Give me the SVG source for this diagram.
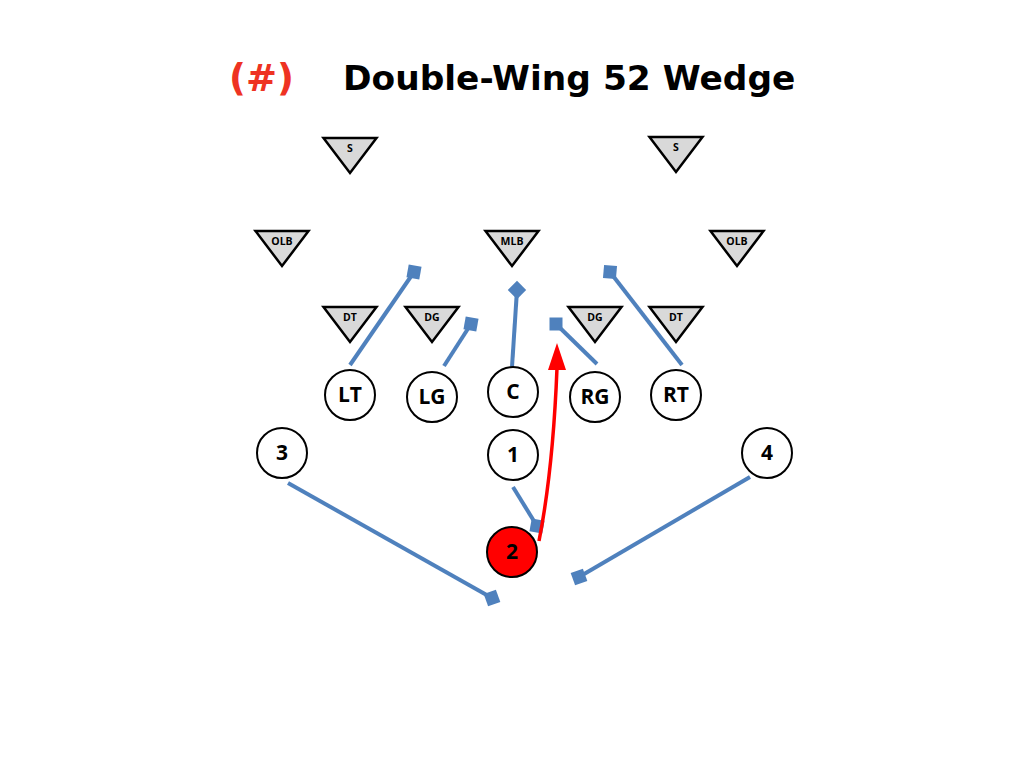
<svg xmlns="http://www.w3.org/2000/svg" width="1024" height="768" viewBox="0 0 1024 768">
<style>
.tri{fill:#D9D9D9;stroke:#000;stroke-width:2.5;stroke-linejoin:miter}
.tl{font-family:"Open Sans","Liberation Sans",sans-serif;font-weight:bold;font-size:10.5px;text-anchor:middle;fill:#000}
.pl{fill:#fff;stroke:#000;stroke-width:2}
.cl{font-family:"Open Sans","Liberation Sans",sans-serif;font-weight:bold;font-size:21px;text-anchor:middle;fill:#000}
.bl{fill:none;stroke:#4F81BD;stroke-width:4}
.sq{fill:#4F81BD}
</style>
<defs>
<path id="tri" d="M-26.5,0 L26.5,0 L0,35 Z"/>
<rect id="sq" x="-6.5" y="-6.5" width="13" height="13"/>
</defs>
<g id="title">
<text x="229" y="91" font-family="DejaVu Sans,Verdana,sans-serif" font-weight="bold" font-size="37" fill="#EE3322">(#)</text>
<text x="343" y="90" font-family="DejaVu Sans,Verdana,sans-serif" font-weight="bold" font-size="34.4" fill="#000">Double-Wing 52 Wedge</text>
</g>
<g id="S-left"><use href="#tri" class="tri" x="350" y="138"/><text class="tl" x="350" y="152">S</text></g>
<g id="S-right"><use href="#tri" class="tri" x="676" y="137"/><text class="tl" x="676" y="151">S</text></g>
<g id="OLB-left"><use href="#tri" class="tri" x="282" y="231"/><text class="tl" x="282" y="245">OLB</text></g>
<g id="MLB"><use href="#tri" class="tri" x="512" y="231"/><text class="tl" x="512" y="245">MLB</text></g>
<g id="OLB-right"><use href="#tri" class="tri" x="737" y="231"/><text class="tl" x="737" y="245">OLB</text></g>
<g id="DT-left"><use href="#tri" class="tri" x="350" y="307"/><text class="tl" x="350" y="321">DT</text></g>
<g id="DG-left"><use href="#tri" class="tri" x="432" y="307"/><text class="tl" x="432" y="321">DG</text></g>
<g id="DG-right"><use href="#tri" class="tri" x="595" y="307"/><text class="tl" x="595" y="321">DG</text></g>
<g id="DT-right"><use href="#tri" class="tri" x="676" y="307"/><text class="tl" x="676" y="321">DT</text></g>
<g id="connectors">
<line class="bl" x1="350" y1="365" x2="414" y2="272"/>
<use href="#sq" class="sq" transform="translate(414,272) rotate(10)"/>
<line class="bl" x1="444" y1="366" x2="471" y2="324"/>
<use href="#sq" class="sq" transform="translate(471,324) rotate(10)"/>
<line class="bl" x1="512" y1="367" x2="517" y2="290"/>
<use href="#sq" class="sq" transform="translate(517,290) rotate(45)"/>
<line class="bl" x1="597" y1="364" x2="556" y2="324"/>
<use href="#sq" class="sq" transform="translate(556,324)"/>
<line class="bl" x1="682" y1="365" x2="610" y2="272"/>
<use href="#sq" class="sq" transform="translate(610,272) rotate(5)"/>
<line class="bl" x1="513" y1="487" x2="537" y2="526"/>
<use href="#sq" class="sq" transform="translate(537,526) rotate(10)"/>
<line class="bl" x1="288" y1="483" x2="492" y2="598"/>
<use href="#sq" class="sq" transform="translate(492,598) rotate(-20)"/>
<line class="bl" x1="750" y1="477" x2="579" y2="577"/>
<use href="#sq" class="sq" transform="translate(579,577) rotate(-20)"/>
<path d="M539,541 Q553,470 557,368" fill="none" stroke="#FF0000" stroke-width="3.5"/>
<path d="M557,343 L548,370 L566,370 Z" fill="#FF0000"/>
</g>
<g id="LT"><circle class="pl" cx="350" cy="395" r="25"/><text class="cl" x="350" y="402">LT</text></g>
<g id="LG"><circle class="pl" cx="432" cy="397" r="25"/><text class="cl" x="432" y="404">LG</text></g>
<g id="C"><circle class="pl" cx="513" cy="392" r="25"/><text class="cl" x="513" y="399">C</text></g>
<g id="RG"><circle class="pl" cx="595" cy="397" r="25"/><text class="cl" x="595" y="404">RG</text></g>
<g id="RT"><circle class="pl" cx="676" cy="395" r="25"/><text class="cl" x="676" y="402">RT</text></g>
<g id="P3"><circle class="pl" cx="282" cy="453" r="25"/><text class="cl" x="282" y="460">3</text></g>
<g id="P1"><circle class="pl" cx="513" cy="455" r="25"/><text class="cl" x="513" y="462">1</text></g>
<g id="P4"><circle class="pl" cx="767" cy="453" r="25"/><text class="cl" x="767" y="460">4</text></g>
<g id="P2"><circle cx="512" cy="552" r="25" fill="#FF0000" stroke="#000" stroke-width="2"/><text class="cl" x="512" y="559">2</text></g>
</svg>
